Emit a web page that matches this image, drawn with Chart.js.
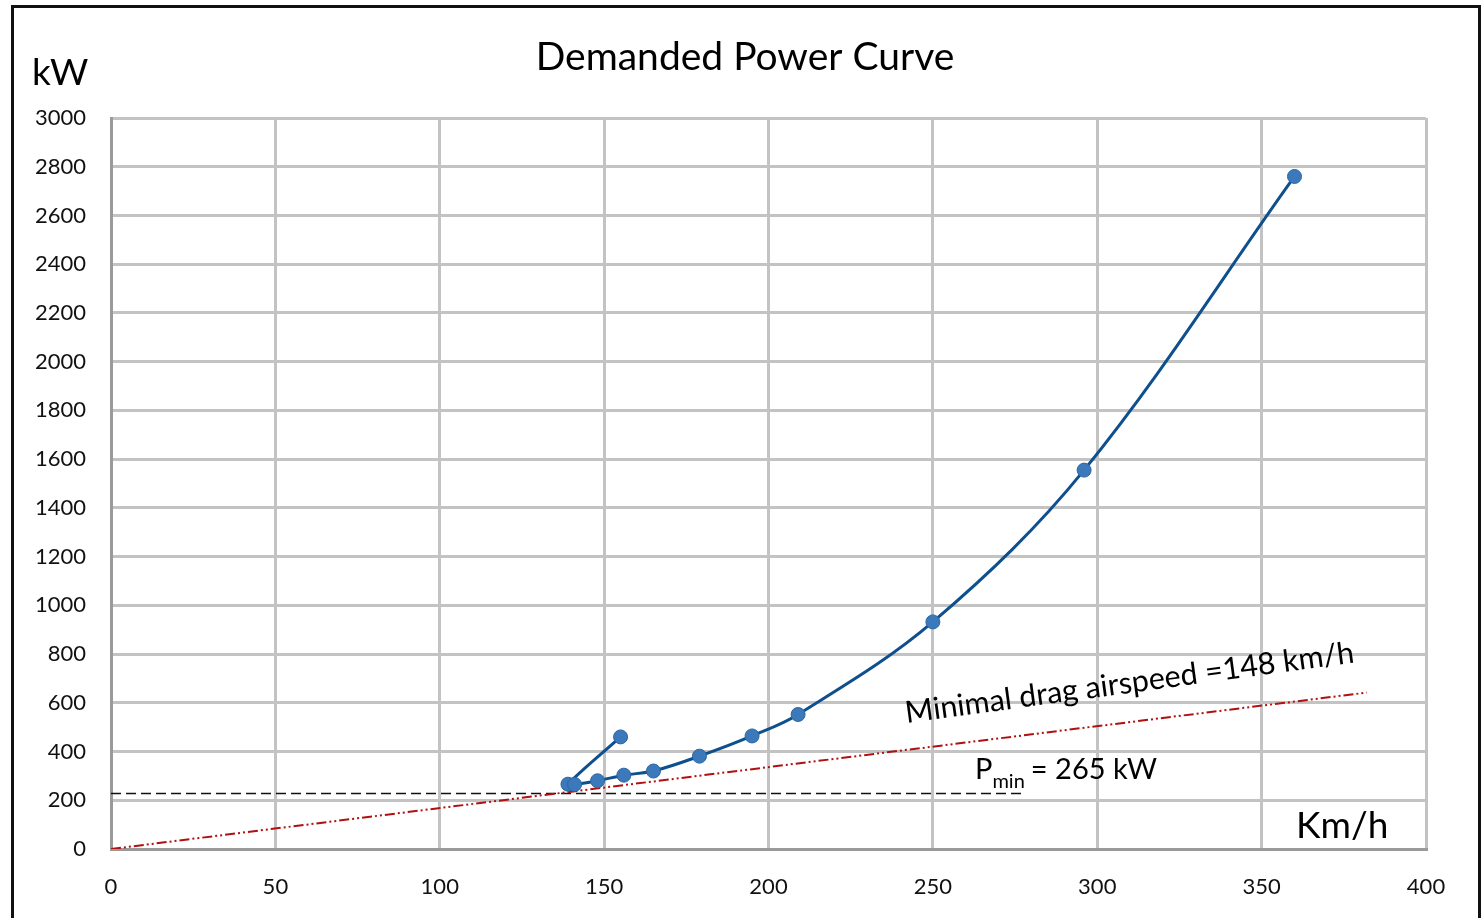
<!DOCTYPE html>
<html>
<head>
<meta charset="utf-8">
<title>Demanded Power Curve</title>
<script src="https://cdn.jsdelivr.net/npm/chart.js@4/dist/chart.umd.min.js"></script>
<style>
  html, body { margin: 0; padding: 0; background: #fff; }
  #wrap { width: 1482px; height: 918px; }
</style>
</head>
<body>
<div id="wrap"><canvas id="chart" width="1482" height="918"></canvas></div>
<script>
// speed (km/h) and demanded power (kW), in the order the curve runs
const speed = [155, 139, 141, 148, 156, 165, 179, 195, 209, 250, 296, 360];
const power = [460, 266, 265, 280, 303, 320, 381, 464, 552, 932, 1555, 2760];

// tangent line from the origin
const dragLineSpeed = [0, 382];
const dragLinePower = [0, 642];

// minimum power reference line
const pLineSpeed = [0, 278];
const pLinePower = [228, 228];

const xTicks = [0, 50, 100, 150, 200, 250, 300, 350, 400];
const yTicks = [0, 200, 400, 600, 800, 1000, 1200, 1400, 1600, 1800, 2000, 2200, 2400, 2600, 2800, 3000];

const minDragSpeed = 148;
const pMin = 265;

const FONT = 'Lato, "Open Sans", sans-serif';

const toXY = (xs, ys) => xs.map((x, i) => ({ x: x, y: ys[i] }));

// white background and the black frame around the figure
const framePlugin = {
  id: 'frame',
  beforeDraw(chart) {
    const ctx = chart.ctx;
    ctx.save();
    ctx.fillStyle = '#fff';
    ctx.fillRect(0, 0, chart.width, chart.height);
    ctx.strokeStyle = '#111';
    ctx.lineWidth = 3;
    ctx.beginPath();
    ctx.moveTo(12.5, chart.height + 5);
    ctx.lineTo(12.5, 6.5);
    ctx.lineTo(1479.5, 6.5);
    ctx.lineTo(1479.5, chart.height + 5);
    ctx.stroke();
    ctx.restore();
  }
};

// title, axis units and the two notes
const textPlugin = {
  id: 'notes',
  afterDraw(chart) {
    const ctx = chart.ctx;
    const xs = chart.scales.x, ys = chart.scales.y;
    ctx.save();
    ctx.fillStyle = '#000';
    ctx.textBaseline = 'alphabetic';

    ctx.textAlign = 'center';
    ctx.font = '39px ' + FONT;
    ctx.fillText('Demanded Power Curve', 745, 70);

    ctx.textAlign = 'left';
    ctx.font = '37px ' + FONT;
    ctx.fillText('kW', 32, 85);
    ctx.fillText('Km/h', 1296, 838);

    // rotated note above the tangent line
    ctx.save();
    ctx.translate(xs.getPixelForValue(242), ys.getPixelForValue(517));
    ctx.rotate(-7.7 * Math.PI / 180);
    ctx.font = '30.5px ' + FONT;
    ctx.fillText('Minimal drag airspeed =' + minDragSpeed + ' km/h', 0, 0);
    ctx.restore();

    // P_min label with subscript
    let x = 975, y = 779;
    ctx.font = '29px ' + FONT;
    ctx.fillText('P', x, y);
    x += ctx.measureText('P').width;
    ctx.font = '20px ' + FONT;
    ctx.fillText('min', x, y + 9);
    x += ctx.measureText('min').width + 6;
    ctx.font = '29px ' + FONT;
    ctx.fillText('= ' + pMin + ' kW', x, y);
    ctx.restore();
  }
};

new Chart(document.getElementById('chart'), {
  type: 'scatter',
  data: {
    datasets: [
      {
        label: 'Demanded power',
        data: toXY(speed, power),
        showLine: true,
        tension: 0.35,
        borderColor: '#0e4f8e',
        borderWidth: 3,
        pointRadius: 7,
        pointBackgroundColor: '#3b79ba',
        pointBorderColor: '#2c66a3',
        pointBorderWidth: 1,
        order: 1
      },
      {
        label: 'Tangent',
        data: toXY(dragLineSpeed, dragLinePower),
        showLine: true,
        borderColor: '#b01010',
        borderWidth: 2,
        borderDash: [10, 3, 2, 3, 2, 3],
        pointRadius: 0,
        order: 2
      },
      {
        label: 'Pmin',
        data: toXY(pLineSpeed, pLinePower),
        showLine: true,
        borderColor: '#111',
        borderWidth: 1.5,
        borderDash: [10, 5],
        pointRadius: 0,
        order: 3
      }
    ]
  },
  options: {
    responsive: false,
    animation: false,
    devicePixelRatio: 1,
    layout: { padding: { top: 118, right: 56, left: 0, bottom: 0 } },
    plugins: {
      legend: { display: false },
      tooltip: { enabled: false }
    },
    scales: {
      x: {
        type: 'linear',
        min: 0,
        max: 400,
        afterFit(scale) { scale.height = 69; },
        afterBuildTicks(scale) { scale.ticks = xTicks.map(v => ({ value: v })); },
        grid: { color: '#c3c3c3', lineWidth: 3, drawTicks: false },
        border: { color: '#9a9a9a', width: 3 },
        ticks: { color: '#111', font: { family: FONT, size: 22 }, padding: 25, callback: v => String(v) }
      },
      y: {
        type: 'linear',
        min: 0,
        max: 3000,
        afterFit(scale) { scale.width = 111; },
        afterBuildTicks(scale) { scale.ticks = yTicks.map(v => ({ value: v })); },
        grid: { color: '#c3c3c3', lineWidth: 3, drawTicks: false },
        border: { color: '#9a9a9a', width: 3 },
        ticks: { color: '#111', font: { family: FONT, size: 22 }, padding: 25, callback: v => String(v) }
      }
    }
  },
  plugins: [framePlugin, textPlugin]
});
</script>
</body>
</html>
